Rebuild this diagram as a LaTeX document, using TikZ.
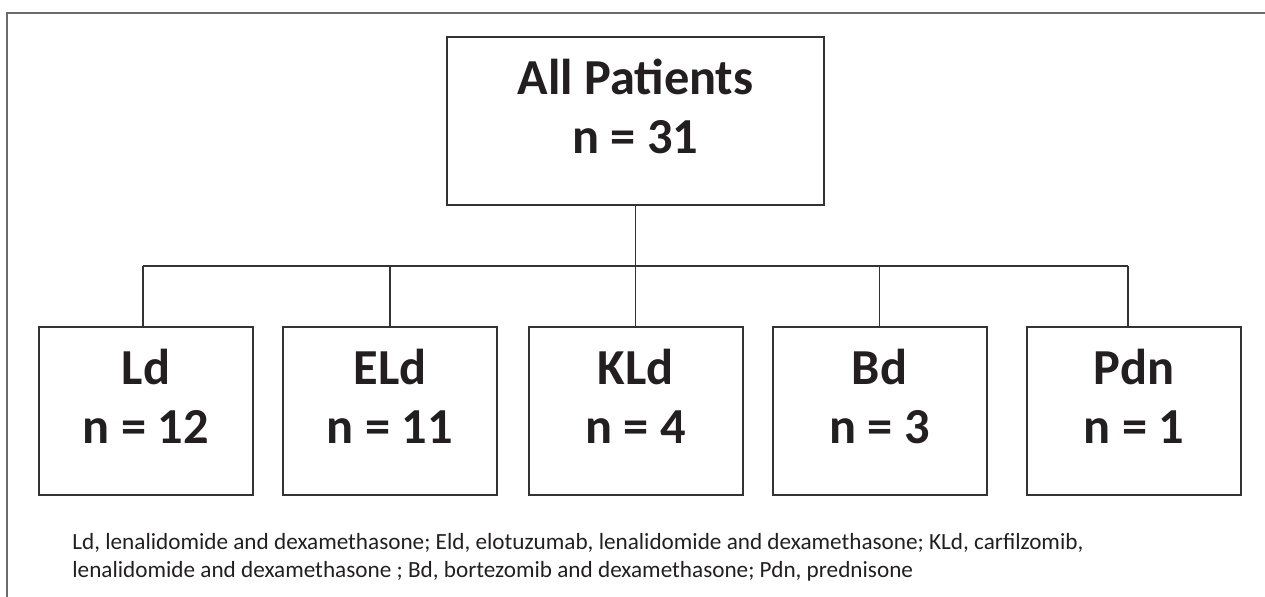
\documentclass[tikz,border=0pt]{standalone}
\usepackage{fontspec}
\setmainfont{Carlito}
\usepackage{xcolor}
\usetikzlibrary{positioning}
\definecolor{ink}{HTML}{231F20}
\definecolor{boxline}{HTML}{333333}
\definecolor{frame}{HTML}{6B6B6B}
\newcommand{\lift}{\rule[-15pt]{0pt}{0pt}}
\tikzset{
  grpbox/.style={rectangle,draw=boxline,fill=white,text=ink,line width=1pt,
    minimum width=107pt,minimum height=84pt,inner sep=0pt,align=center,
    font=\fontsize{25.2}{29.5}\selectfont\bfseries},
  rootbox/.style={grpbox,minimum width=188.5pt},
  link/.style={draw=boxline,line width=0.8pt},
  frameline/.style={draw=frame,line width=1pt},
  note/.style={text=ink,inner sep=0pt,align=left,anchor=north west,
    font=\fontsize{11.6}{14}\selectfont},
}
\begin{document}
\begin{tikzpicture}[x=0.5pt,y=-0.5pt]
  \useasboundingbox (0,0) rectangle (1265,597);
  % outer frame (top and left only)
  \coordinate (fTL) at (7,13); \coordinate (fTR) at (1265,13);
  \coordinate (fBL) at (7,597);
  \draw[frameline] (fTR)--(fTL)--(fBL);
  % boxes
  \node[rootbox] (all) at (635.5,121){All Patients\\n = 31\lift};
  \node[grpbox] (ld) at (146,411){Ld\\n = 12\lift};
  \node[grpbox] (eld) at (390,411){ELd\\n = 11\lift};
  \node[grpbox] (kld) at (635.5,411){KLd\\n = 4\lift};
  \node[grpbox] (bd) at (879.5,411){Bd\\n = 3\lift};
  \node[grpbox] (pdn) at (1134,411){Pdn\\n = 1\lift};
  % connectors
  \coordinate (busL) at (143,266); \coordinate (busR) at (1128,266);
  \draw[link] (busL)--(busR);
  \draw[link] (all.south)--(kld.north);
  \draw[link] (busL)--(busL |- ld.north);
  \draw[link] (eld.north)--(eld.north |- busL);
  \draw[link] (bd.north)--(bd.north |- busL);
  \draw[link] (busR)--(busR |- pdn.north);
  % abbreviations
  \node[note] (abbr) at (72,533){Ld, lenalidomide and dexamethasone; Eld, elotuzumab, lenalidomide and dexamethasone; KLd, carfilzomib,\\lenalidomide and dexamethasone ; Bd, bortezomib and dexamethasone; Pdn, prednisone};
\end{tikzpicture}
\end{document}
